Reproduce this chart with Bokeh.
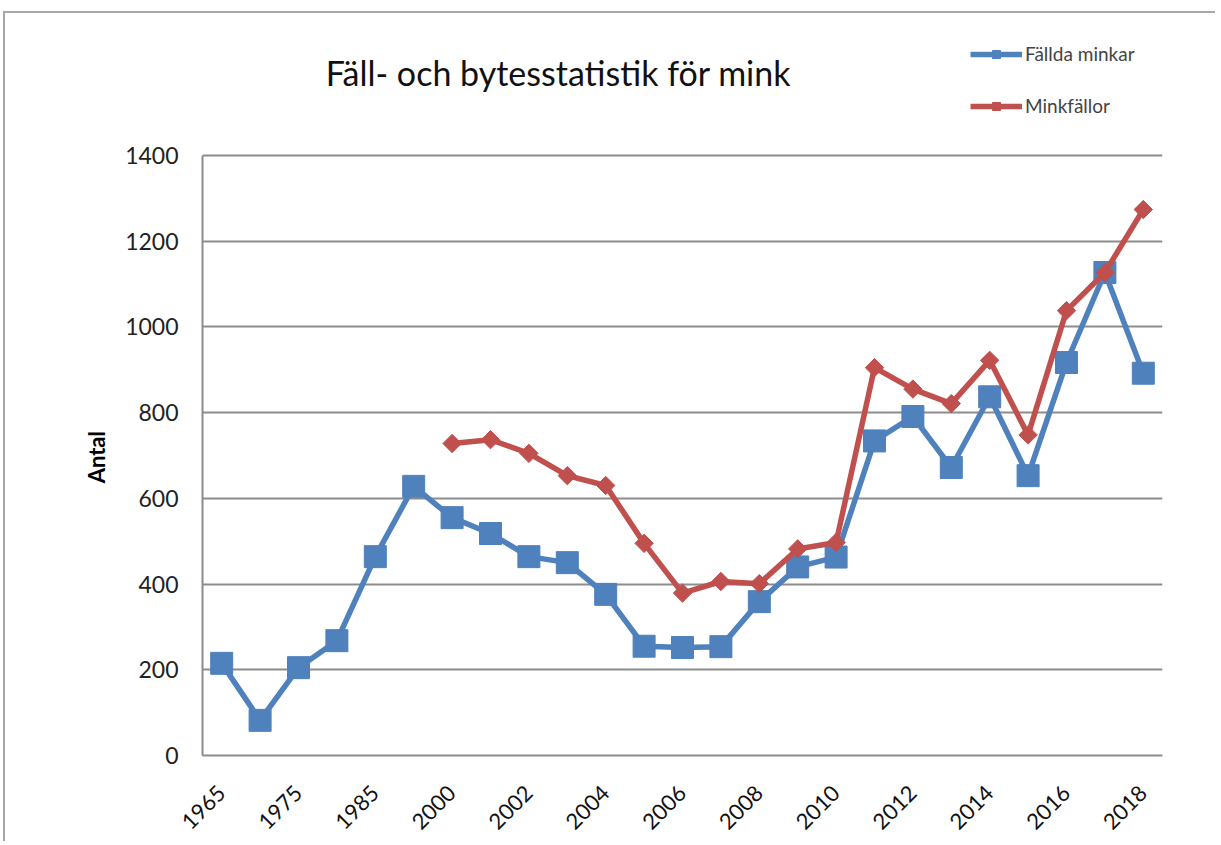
import math
from bokeh.plotting import figure
from bokeh.models import Label, ColumnDataSource, FixedTicker
from bokeh.embed import file_html
from bokeh.resources import INLINE

years = ["1965", "1970", "1975", "1980", "1985", "1990", "2000", "2001", "2002", "2003",
         "2004", "2005", "2006", "2007", "2008", "2009", "2010", "2011", "2012", "2013",
         "2014", "2015", "2016", "2017", "2018"]
fallda_minkar = [215, 82, 205, 268, 464, 628, 555, 518, 464, 450,
                 376, 255, 252, 254, 359, 440, 463, 734, 791, 672,
                 837, 653, 917, 1127, 892]
minkfallor_years = ["2000", "2001", "2002", "2003", "2004", "2005", "2006", "2007", "2008",
                    "2009", "2010", "2011", "2012", "2013", "2014", "2015", "2016", "2017", "2018"]
minkfallor = [728, 737, 705, 653, 630, 495, 379, 406, 401,
              482, 497, 905, 855, 821, 922, 748, 1038, 1127, 1274]
y_ticks = [0, 200, 400, 600, 800, 1000, 1200, 1400]
shown_labels = years[::2]

FONT = "Lato"
BLUE = "#4F81BD"
RED = "#C0504D"
GRID = "#8C8C8C"

FRAME_H = 725
Y_TOP = 1400 * FRAME_H / 600.0  # extra room above the plot for title and legend

p = figure(width=1210, height=828, x_range=(-0.5, len(years) - 0.5),
           y_range=(0, Y_TOP), output_backend="svg", toolbar_location=None,
           frame_width=960, frame_height=FRAME_H,
           min_border_left=197, min_border_top=17, min_border_right=53, min_border_bottom=86)
p.outline_line_color = None
p.background_fill_color = "white"
p.border_fill_color = "white"
p.styles = {"border-top": "2px solid #A6A6A6", "border-left": "2px solid #A6A6A6",
            "margin-top": "11px", "margin-left": "3px"}

xb = [years.index(y) for y in years]
xr = [years.index(y) for y in minkfallor_years]
src_b = ColumnDataSource(dict(x=xb, y=fallda_minkar))
src_r = ColumnDataSource(dict(x=xr, y=minkfallor))

p.line("x", "y", source=src_b, line_color=BLUE, line_width=5.5, legend_label="Fällda minkar")
p.scatter("x", "y", source=src_b, marker="square", size=22, fill_color=BLUE, line_color=BLUE,
          legend_label="Fällda minkar")
p.line("x", "y", source=src_r, line_color=RED, line_width=5.5, legend_label="Minkfällor")
p.scatter("x", "y", source=src_r, marker="square", angle=math.pi / 4, size=13, fill_color=RED,
          line_color=RED, legend_label="Minkfällor")

# y axis
p.yaxis.ticker = FixedTicker(ticks=y_ticks)
p.yaxis.bounds = (0, 1400)
p.yaxis.axis_line_color = GRID
p.yaxis.axis_line_width = 2
p.yaxis.major_tick_line_color = None
p.yaxis.major_tick_out = 0
p.yaxis.minor_tick_line_color = None
p.yaxis.major_label_text_font = FONT
p.yaxis.major_label_text_font_size = "23px"
p.yaxis.major_label_text_color = "#222222"
p.yaxis.major_label_standoff = 24
# non-breaking spaces shift the visible word down to the centre of the 0-1400 area
p.yaxis.axis_label = "Antal" + "\u00a0" * 24
p.yaxis.axis_label_text_font = FONT
p.yaxis.axis_label_text_font_size = "22px"
p.yaxis.axis_label_text_font_style = "bold"
p.yaxis.axis_label_text_color = "#000000"
p.yaxis.axis_label_standoff = 12

# x axis
p.xaxis.ticker = FixedTicker(ticks=[years.index(y) for y in shown_labels])
p.xaxis.major_label_overrides = {years.index(y): y for y in shown_labels}
p.xaxis.axis_line_color = GRID
p.xaxis.axis_line_width = 2
p.xaxis.major_tick_line_color = None
p.xaxis.major_tick_out = 0
p.xaxis.minor_tick_line_color = None
p.xaxis.major_label_text_font = FONT
p.xaxis.major_label_text_font_size = "22px"
p.xaxis.major_label_text_color = "#111111"
p.xaxis.major_label_orientation = math.pi / 4
p.xaxis.major_label_standoff = 34

p.xgrid.grid_line_color = None
p.ygrid.grid_line_color = GRID
p.ygrid.grid_line_width = 2

# legend
p.legend.location = (768, 638)
p.legend.border_line_color = None
p.legend.background_fill_alpha = 0
p.legend.glyph_width = 52
p.legend.glyph_height = 20
p.legend.label_height = 20
p.legend.spacing = 29
p.legend.padding = 0
p.legend.margin = 0
p.legend.label_standoff = 3
p.legend.label_text_font = FONT
p.legend.label_text_font_size = "19px"

# title
title = Label(x=356, y=683, x_units="screen", y_units="screen",
              text="Fäll- och bytesstatistik för mink",
              text_font=FONT, text_font_size="34px", text_align="center", text_baseline="middle",
              text_color="#111111")
p.add_layout(title)

open("out.html", "w").write(file_html(p, INLINE))
